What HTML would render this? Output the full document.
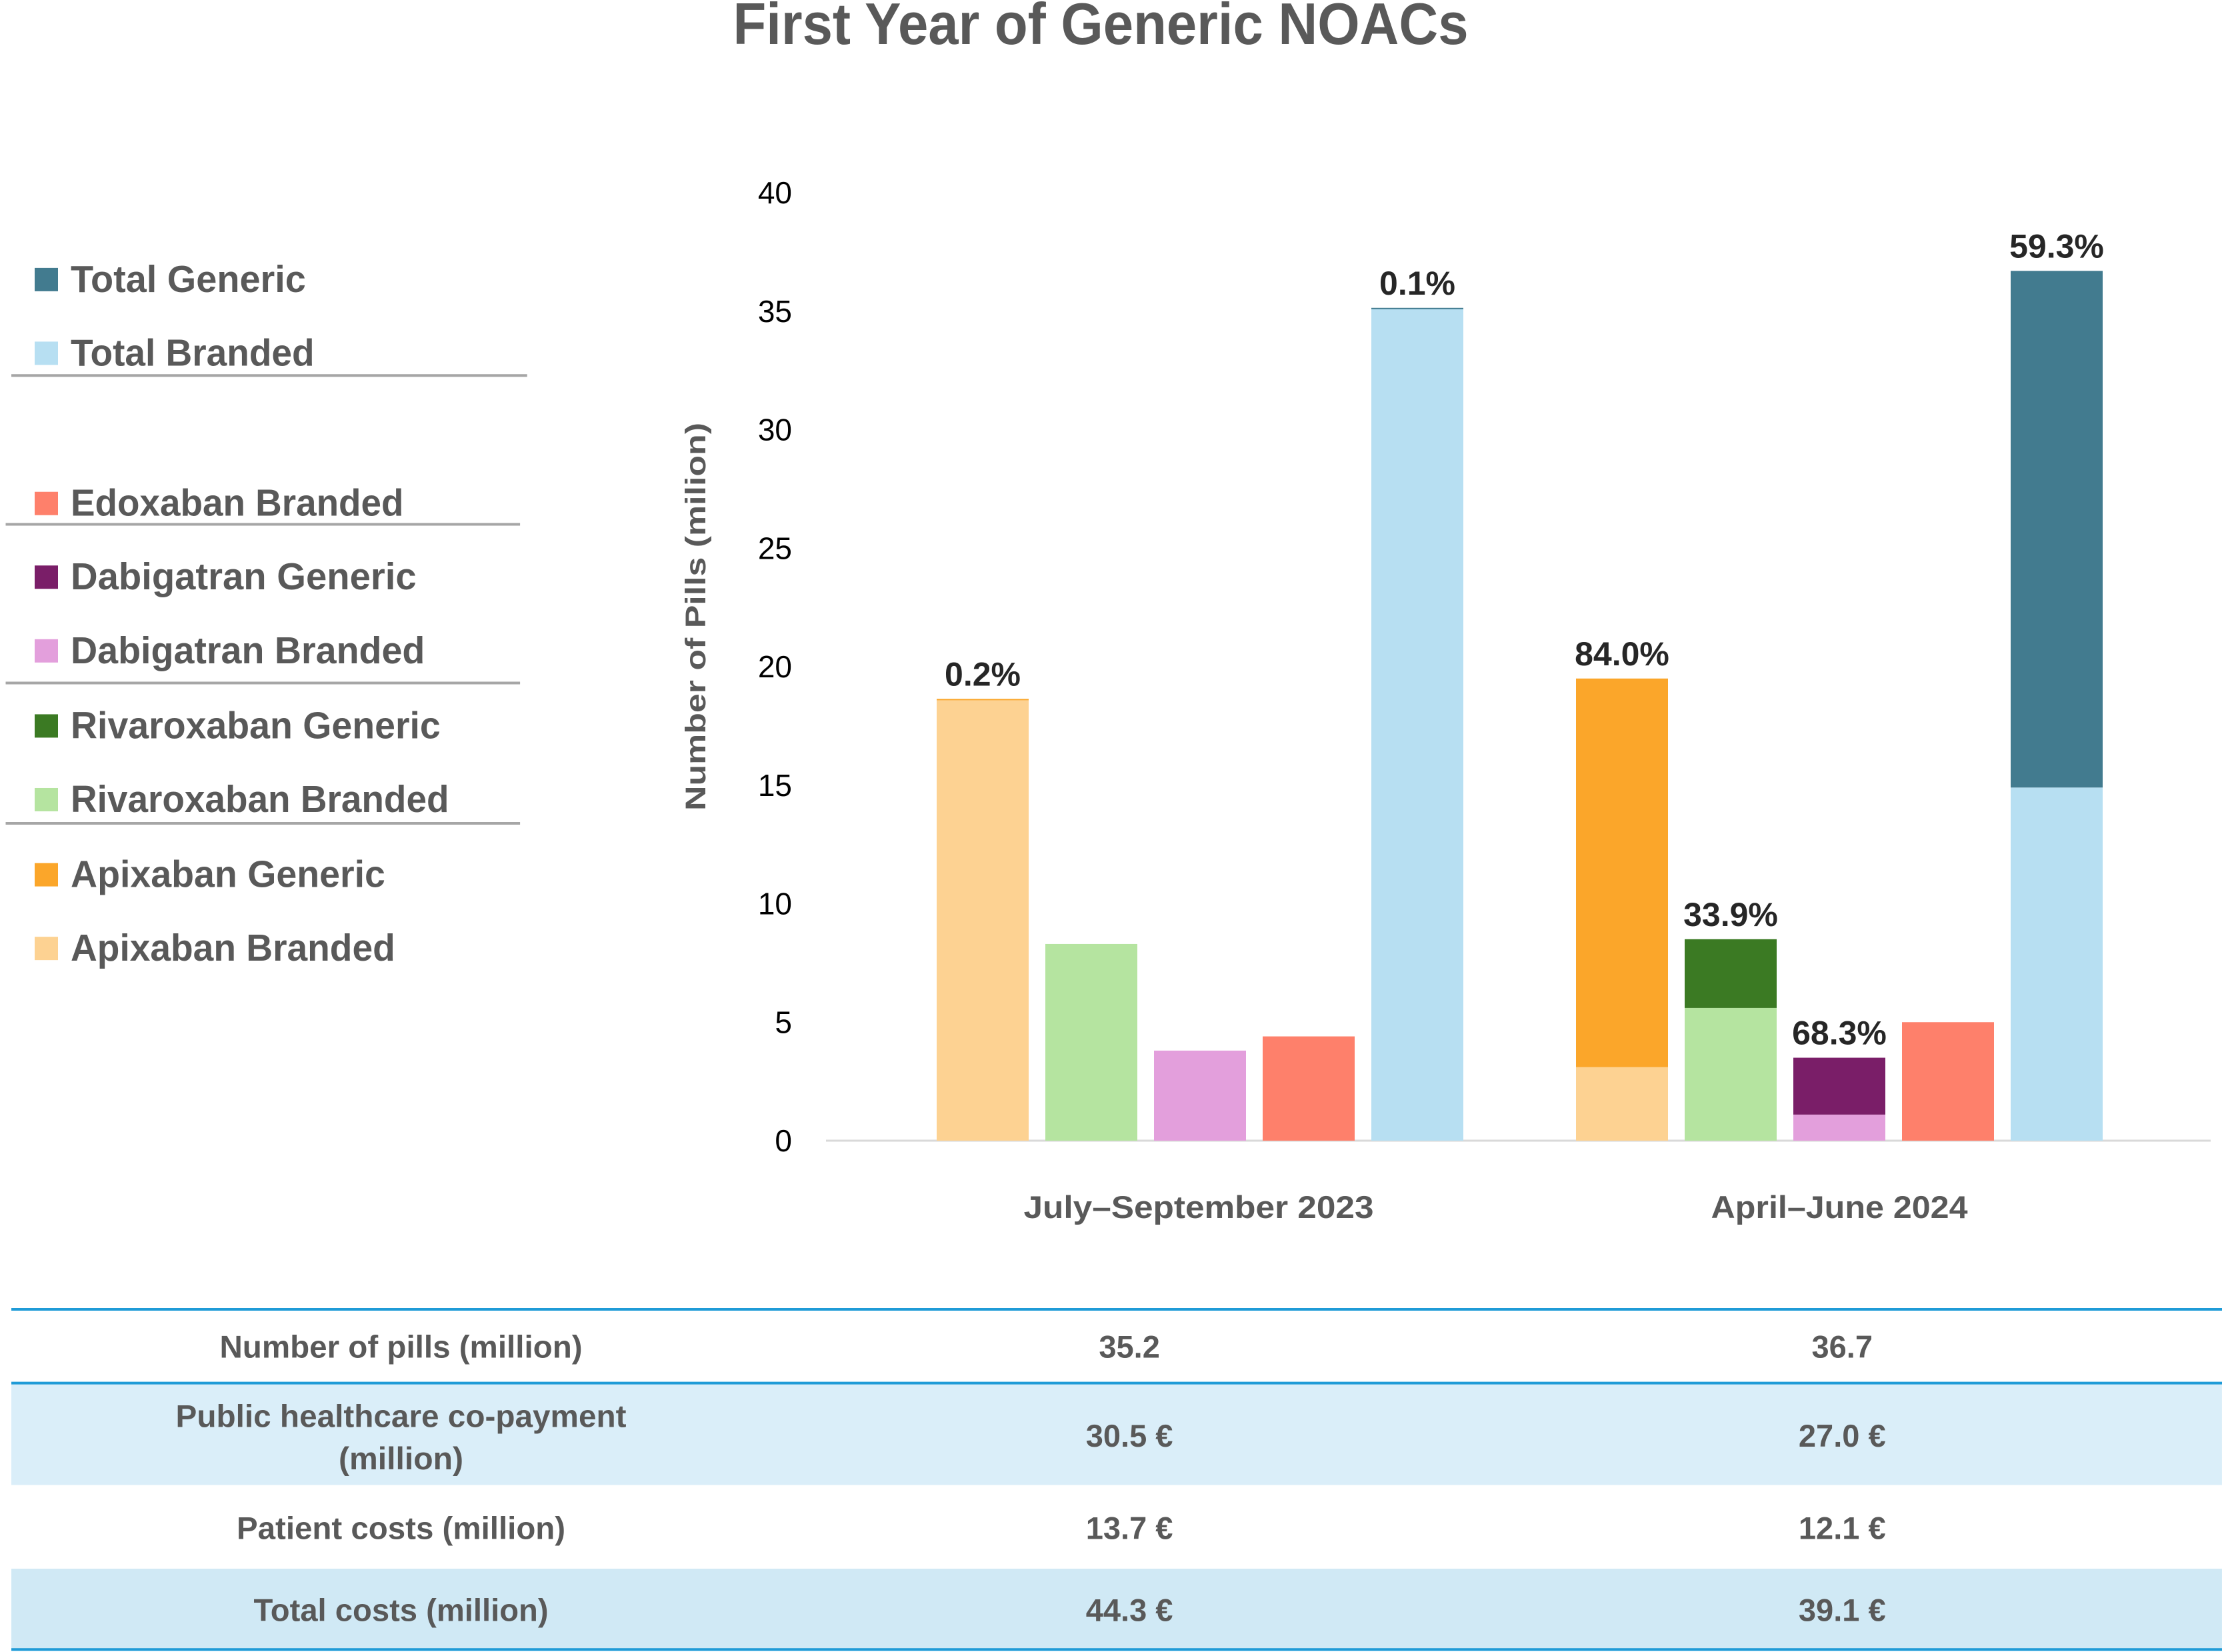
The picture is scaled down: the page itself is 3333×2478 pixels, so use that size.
<!DOCTYPE html>
<html><head><meta charset="utf-8"><style>
html,body{margin:0;padding:0;background:#fff;}
svg{display:block;}
text{font-family:"Liberation Sans",sans-serif;font-weight:bold;}
.n{font-family:"Liberation Sans Narrow","Liberation Sans",sans-serif;}
</style></head><body>
<svg id="c" width="3333" height="2478" viewBox="0 0 3333 2478" xmlns="http://www.w3.org/2000/svg">
<text x="1651" y="66" text-anchor="middle" font-size="88" fill="#595959" class="n" textLength="1103" lengthAdjust="spacingAndGlyphs">First Year of Generic NOACs</text>
<g id="legend"></g>
<g id="axis"></g>
<g id="bars"></g>
<g id="table"></g>
</svg>
<script>
const categories = ["July–September 2023", "April–June 2024"];
const drugs = ["Apixaban", "Rivaroxaban", "Dabigatran", "Edoxaban", "Total"];
const branded2023 = [18.6, 8.3, 3.8, 4.4, 35.1];
const generic2023 = [0.04, 0, 0, 0, 0.04];
const branded2024 = [3.1, 5.6, 1.1, 5.0, 14.9];
const generic2024 = [16.4, 2.9, 2.4, 0, 21.8];
const pctLabels2023 = ["0.2%", "", "", "", "0.1%"];
const pctLabels2024 = ["84.0%", "33.9%", "68.3%", "", "59.3%"];
const yTicks = [0, 5, 10, 15, 20, 25, 30, 35, 40];
const legendLabels = ["Total Generic","Total Branded","Edoxaban Branded","Dabigatran Generic","Dabigatran Branded","Rivaroxaban Generic","Rivaroxaban Branded","Apixaban Generic","Apixaban Branded"];
const tableRowLabels = [["Number of pills (million)"],["Public healthcare co-payment","(million)"],["Patient costs (million)"],["Total costs (million)"]];
const tableCol2023 = ["35.2","30.5 €","13.7 €","44.3 €"];
const tableCol2024 = ["36.7","27.0 €","12.1 €","39.1 €"];

const NS="http://www.w3.org/2000/svg";
const S=2.1256;
function mk(tag,attrs,parent,txt){const e=document.createElementNS(NS,tag);for(const k in attrs)e.setAttribute(k,attrs[k]);if(txt!==undefined)e.textContent=txt;parent.appendChild(e);return e;}
const brandCol=["#fdd292","#b5e4a0","#e39fdc","#fe806b","#b7dff2"];
const genCol=["#fba62a","#3b7a23","#7a1e68","#fe806b","#427b8f"];
const y0=1711, y40=289;
function y(v){return y0-(y0-y40)*v/40;}

// axis
const ax=document.getElementById('axis');
yTicks.forEach(t=>{
  const e=mk('text',{x:1188,y:y(t)+16,'text-anchor':'end','font-size':46,fill:'#000',style:'font-weight:normal'},ax,String(t));
  
  
});
const bl=mk('line',{x1:1239,x2:3316,y1:y0,y2:y0,stroke:'#d9d9d9','stroke-width':3},ax);


const yt=mk('text',{transform:'translate(1058,925) rotate(-90)','text-anchor':'middle','font-size':43,fill:'#595959',textLength:582,lengthAdjust:'spacingAndGlyphs'},ax,'Number of Pills (milion)');



// bars
const bg=document.getElementById('bars');
const groupStart=[1405,2364], pitch=163, bw=138;
const catW=[525,385], catC=[1798,2759];
[[branded2023,generic2023,pctLabels2023],[branded2024,generic2024,pctLabels2024]].forEach((g,gi)=>{
  const [br,ge,lb]=g;
  drugs.forEach((d,i)=>{
    const x=groupStart[gi]+i*pitch;
    const r1=mk('rect',{x:x,y:y(br[i]),width:bw,height:y0-y(br[i]),fill:brandCol[i]},bg);
    
    
    if(ge[i]>0){
      const r2=mk('rect',{x:x,y:y(br[i]+ge[i]),width:bw,height:Math.max(2,y(br[i])-y(br[i]+ge[i])),fill:genCol[i]},bg);
      
      
    }
    if(lb[i]){
      const t=mk('text',{x:x+bw/2,y:y(br[i]+ge[i])-20,'text-anchor':'middle','font-size':50,fill:'#262626',class:'n'},bg,lb[i]);
      
      
    }
  });
  const c=mk('text',{x:catC[gi],y:1827,'text-anchor':'middle','font-size':47,fill:'#595959',class:'n',textLength:catW[gi],lengthAdjust:'spacingAndGlyphs'},bg,categories[gi]);
  
  
});

// legend
const lg=document.getElementById('legend');
const legCols=["#427b8f","#b7dff2","#fe806b","#7a1e68","#e39fdc","#3b7a23","#b5e4a0","#fba62a","#fdd292"];
const legBase=[206,258,364,416,468,521,573,626,678];
const legW=[166,172,235,244,250,261,267,222,229];
legendLabels.forEach((l,i)=>{
  const b=legBase[i]*S;
  const r=mk('rect',{x:52,y:b-36,width:35,height:35,fill:legCols[i]},lg);
  
  
  const t=mk('text',{x:106,y:b,'font-size':57,fill:'#595959',textLength:legW[i]*S,lengthAdjust:'spacingAndGlyphs'},lg,l);
  
  
});
[[265,8,372],[370,4,367],[482,4,367],[581,4,367]].forEach((s,i)=>{
  const ln=mk('line',{x1:s[1]*S,x2:s[2]*S,y1:s[0]*S,y2:s[0]*S,stroke:'#a6a6a6','stroke-width':4},lg);
  
  
});

// table
const tb=document.getElementById('table');
const rowTop=[924,976,1048,1107], rowBot=[976,1048,1107,1164];
const rowFill=["#ffffff","#daeef9","#ffffff","#d0e9f5"];
rowTop.forEach((t,i)=>{
  const r=mk('rect',{x:8*S,y:t*S,width:(1568-8)*S,height:(rowBot[i]-t)*S,fill:rowFill[i]},tb);
  
  
});
[924,976,1164].forEach((v,i)=>{
  const ln=mk('line',{x1:8*S,x2:3333,y1:v*S,y2:v*S,stroke:'#1f9bd7','stroke-width':4},tb);
  
  
});
const rowBase=[[958],[1007,1037],[1086],[1144]];
const rowValBase=[958,1021,1086,1144];
const labW=[[256],[318,88],[232],[208]];
tableRowLabels.forEach((ls,i)=>{
  ls.forEach((l,j)=>{
    const t=mk('text',{x:283*S,y:rowBase[i][j]*S,'text-anchor':'middle','font-size':47,fill:'#595959',class:'n',textLength:labW[i][j]*S,lengthAdjust:'spacingAndGlyphs'},tb,l);
    
    
  });
  const a=mk('text',{x:797*S,y:rowValBase[i]*S,'text-anchor':'middle','font-size':47,fill:'#595959',class:'n'},tb,tableCol2023[i]);
  
  
  const b=mk('text',{x:1300*S,y:rowValBase[i]*S,'text-anchor':'middle','font-size':47,fill:'#595959',class:'n'},tb,tableCol2024[i]);
  
  
});
</script>
</body></html>
